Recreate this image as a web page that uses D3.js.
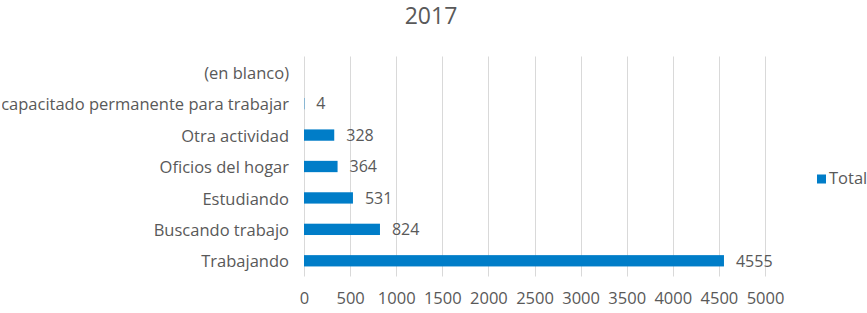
<!DOCTYPE html>
<html><head><meta charset="utf-8">
<script src="https://cdn.jsdelivr.net/npm/d3@7"></script>
<style>
body{margin:0;background:#fff;}
text{font-family:"Open Sans",sans-serif;fill:#595959;}
</style></head><body>
<svg id="c" width="867" height="313"></svg>
<script>
const title = "2017";
const categories = ["(en blanco)","Incapacitado permanente para trabajar","Otra actividad","Oficios del hogar","Estudiando","Buscando trabajo","Trabajando"];
const values = [null, 4, 328, 364, 531, 824, 4555];
const ticks = [0,500,1000,1500,2000,2500,3000,3500,4000,4500,5000];
const seriesName = "Total";

const svg = d3.select("#c");
const x = d3.scaleLinear().domain([0,5000]).range([304,765]);
const y = d3.scaleBand().domain(categories).range([56.5,276.5]).paddingInner(0.64).paddingOuter(0.32);

svg.append("defs").append("clipPath").attr("id","clip")
  .append("rect").attr("x",2).attr("y",0).attr("width",865).attr("height",313);

// gridlines
svg.append("g").selectAll("line").data(ticks).join("line")
  .attr("x1",d=>Math.round(x(d))+0.5).attr("x2",d=>Math.round(x(d))+0.5)
  .attr("y1",56.5).attr("y2",276.5)
  .attr("stroke","#d9d9d9").attr("stroke-width",1);

// x axis labels
const xa = svg.append("g").attr("transform","translate(0,276.5)")
  .call(d3.axisBottom(x).tickValues(ticks).tickSize(0).tickPadding(16).tickFormat(d3.format("d")));
xa.select(".domain").remove();
xa.selectAll("text").style("font-size","16.5px").attr("fill","#595959").style("font-family","'Open Sans',sans-serif");

// y axis labels
const yg = svg.append("g").attr("clip-path","url(#clip)");
const ya = yg.append("g").attr("transform","translate(304,0)")
  .call(d3.axisLeft(y).tickSize(0).tickPadding(15));
ya.select(".domain").remove();
ya.selectAll("text").style("font-size","16.5px").attr("fill","#595959").attr("dy","0.4em").style("font-family","'Open Sans',sans-serif");

// bars
const data = categories.map((c,i)=>({c, v: values[i]}));
svg.append("g").selectAll("rect").data(data.filter(d=>d.v!=null)).join("rect")
  .attr("x",x(0)).attr("y",d=>y(d.c)).attr("width",d=>x(d.v)-x(0)).attr("height",y.bandwidth())
  .attr("fill","#007DC8");

// value labels
svg.append("g").selectAll("text").data(data.filter(d=>d.v!=null)).join("text")
  .attr("x",d=>x(d.v)+12).attr("y",d=>y(d.c)+y.bandwidth()/2+1.5)
  .attr("dominant-baseline","middle").style("font-size","16px").text(d=>d.v);

// title
svg.append("text").attr("x",431).attr("y",18).attr("text-anchor","middle")
  .attr("dominant-baseline","middle").style("font-size","23px").text(title);

// legend
svg.append("rect").attr("x",817).attr("y",174.5).attr("width",9).attr("height",9).attr("fill","#007DC8");
svg.append("text").attr("x",829).attr("y",180).attr("dominant-baseline","middle").style("font-size","16.5px").text(seriesName);
</script>
</body></html>
